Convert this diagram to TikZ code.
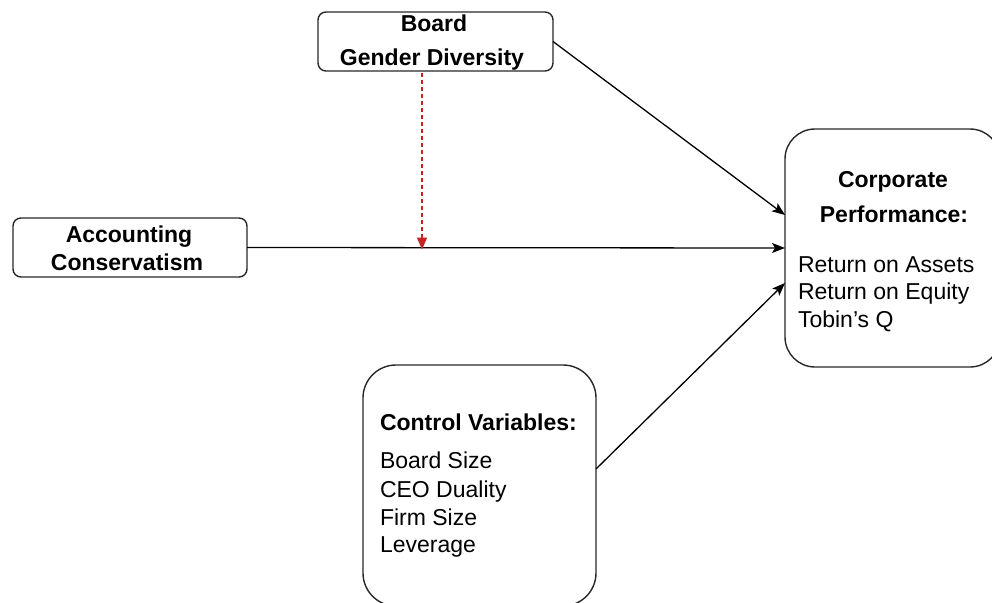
\documentclass[tikz,border=0pt]{standalone}
\usepackage{fontspec}
\setmainfont{Liberation Sans}
\usetikzlibrary{arrows.meta}
\definecolor{edgegray}{RGB}{40,40,40}
\definecolor{modred}{RGB}{195,35,35}
\begin{document}
\begin{tikzpicture}[x=1pt,y=-1pt,
  box/.style={draw=edgegray, line width=1.4pt, rectangle, inner sep=0pt, outer sep=0pt},
  txt/.style={inner sep=0pt, outer sep=0pt, font=\fontsize{23}{27}\selectfont},
  head/.style={txt, font=\fontsize{23}{27}\selectfont\bfseries},
  link/.style={line width=1.3pt, -{Stealth[length=13pt, width=10pt, inset=3pt]}},
  modlink/.style={line width=1.4pt, draw=modred, dash pattern=on 4pt off 3pt,
    -{Triangle[length=12pt, width=10pt, fill=modred]}}]
\clip (0,0) rectangle (992,602);
\fill[white] (0,0) rectangle (992,602);

% boxes
\node[box, rounded corners=8pt, minimum width=235pt, minimum height=59pt] (board) at (435.5,41.5) {};
\node[box, rounded corners=8pt, minimum width=234pt, minimum height=59pt] (acc) at (130,247.5) {};
\node[box, rounded corners=30pt, minimum width=215pt, minimum height=238pt] (corp) at (892.5,248) {};
\node[box, rounded corners=33pt, minimum width=233pt, minimum height=241pt] (ctrl) at (479.5,485.5) {};

% box texts
\node[head, anchor=base] (boardA) at (434,32) {Board};
\node[head, anchor=base] (boardB) at (432,65) {Gender Diversity};
\node[head, anchor=base] (accA) at (129,242) {Accounting};
\node[head, anchor=base] (accB) at (127,270) {Conservatism};
\node[head, anchor=base] (corpA) at (893,187) {Corporate};
\node[head, anchor=base] (corpB) at (894,222) {Performance:};
\node[txt, anchor=base west] (corp1) at (798,272) {Return on Assets};
\node[txt, anchor=base west] (corp2) at (798,299) {Return on Equity};
\node[txt, anchor=base west] (corp3) at (798,327) {Tobin’s Q};
\node[head, anchor=base west] (ctrlA) at (380,430) {Control Variables:};
\node[txt, anchor=base west] (ctrl1) at (380,468) {Board Size};
\node[txt, anchor=base west] (ctrl2) at (380,497) {CEO Duality};
\node[txt, anchor=base west] (ctrl3) at (380,525) {Firm Size};
\node[txt, anchor=base west] (ctrl4) at (380,552) {Leverage};

% connectors
\draw[link] (board.east) -- ([yshift=33pt]corp.west);
\draw[link] (acc.east) -- (corp.west);
\draw[link] ([yshift=16.5pt]ctrl.east) -- ([yshift=-35pt]corp.west);

% moderating effect onto the main path
\coordinate (mod) at ([xshift=-13.5pt]board.south |- acc.east);
\draw[modlink] ([xshift=-13.5pt,yshift=-2pt]board.south) -- ([yshift=-2pt]mod);
\end{tikzpicture}
\end{document}
